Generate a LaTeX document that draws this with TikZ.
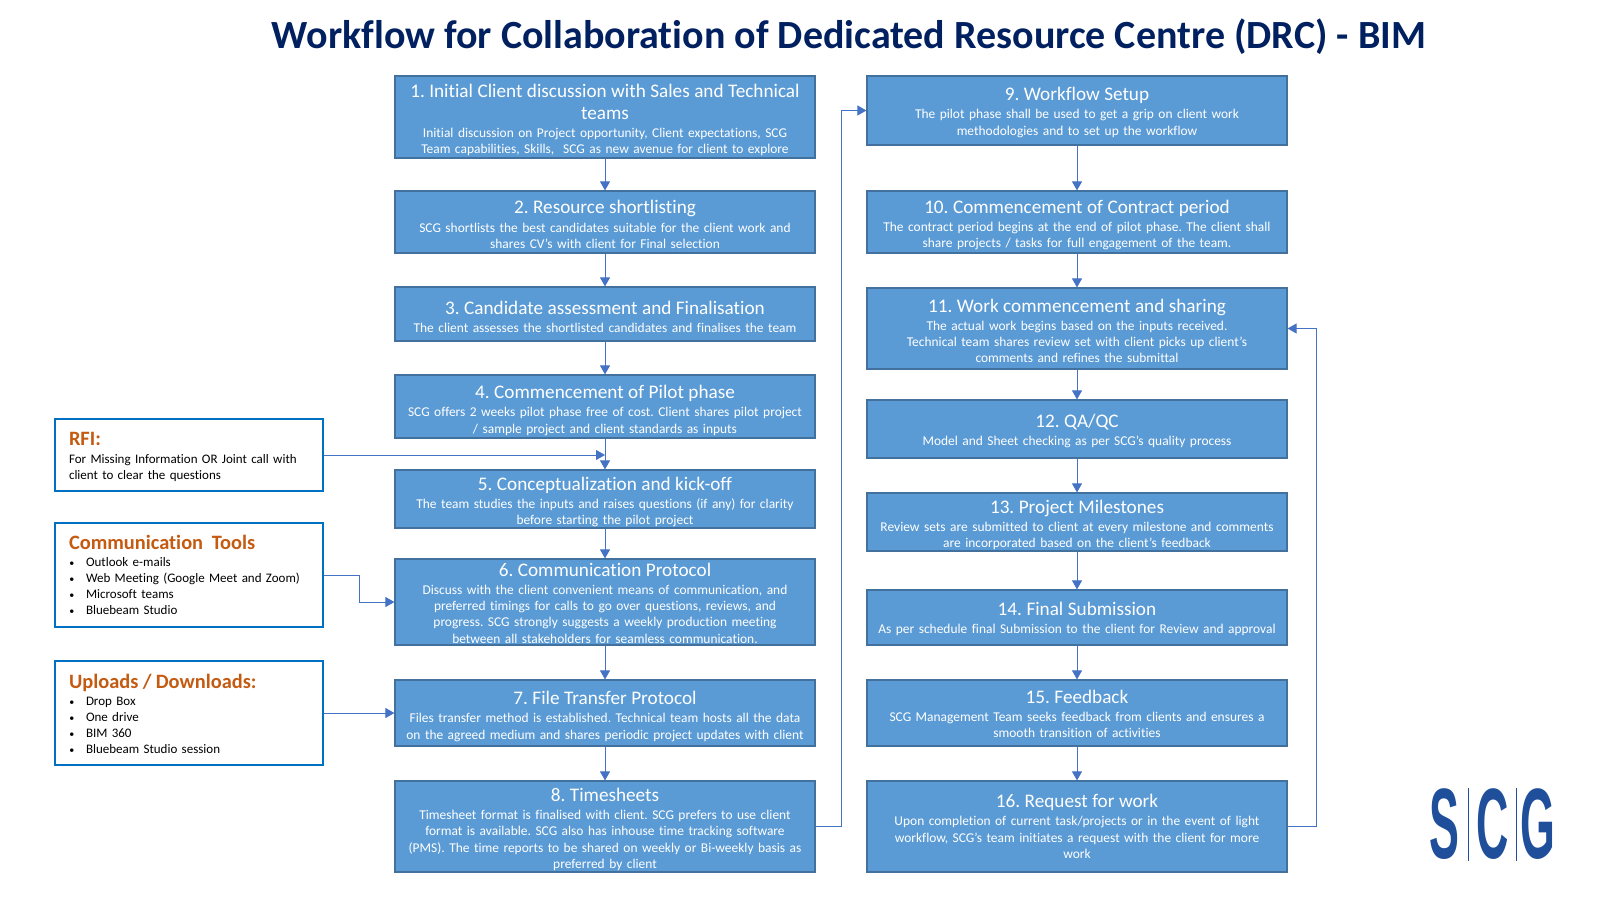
\documentclass[tikz,border=0pt]{standalone}
\usepackage{fontspec}
\setmainfont[Ligatures=NoCommon]{Carlito}
\newfontfamily\logofont{Liberation Sans}
\usepackage{xcolor}
\usetikzlibrary{arrows.meta}
\frenchspacing
\definecolor{boxblue}{HTML}{5B9BD5}
\definecolor{boxedge}{HTML}{41719C}
\definecolor{sideedge}{HTML}{0070C0}
\definecolor{flowblue}{HTML}{4472C4}
\definecolor{headorange}{HTML}{C55A11}
\definecolor{titlenavy}{HTML}{002060}
\definecolor{logoblue}{HTML}{1F4E9A}
\newcommand{\headsize}{\fontsize{9.6}{11.2}\selectfont}
\newcommand{\bodysize}{\fontsize{6.72}{8.15}\selectfont}
\newcommand{\sidesize}{\fontsize{6.5}{8}\selectfont}
\newcommand{\sidehead}[1]{{\fontsize{10.2}{11.5}\selectfont\bfseries\color{headorange}#1\par}\vspace{.4pt}}
\newcommand{\sideitem}[1]{\hspace*{.2pt}\makebox[8.3pt][l]{\fontsize{5}{5}\selectfont\textbullet}#1\par}
\newcommand{\sidelift}[1]{\par\vspace*{-#1}\hrule height 0pt}
\tikzset{
    stepbox/.style={draw=boxedge, fill=boxblue, line width=.6pt, text=white, inner sep=0pt, text width=210pt, minimum width=210pt, align=center, font=\bodysize},
    sidebox/.style={draw=sideedge, line width=1.1pt, fill=white, inner xsep=7pt, inner ysep=0pt, text width=120pt, minimum width=134pt, align=left, font=\sidesize},
    flow/.style={draw=flowblue, line width=.45pt, -{Triangle[length=4.5pt,width=5pt]}},
    logoletter/.style={text=logoblue, font=\logofont\bfseries\fontsize{20}{20}\selectfont, inner sep=0pt, xscale=1.12, yscale=2.5, transform shape}
}
\begin{document}
\begin{tikzpicture}[x=.5pt,y=-.5pt]
\useasboundingbox (0,0) rectangle (1600,900);
\node[text=titlenavy, font=\fontsize{20}{22}\selectfont\bfseries] (title) at (849,37) {Workflow for Collaboration of Dedicated Resource Centre (DRC) - BIM};
\foreach \cx/\cy/\bh/\lift/\btitle/\btext[count=\idx] in {
    605/117/82/3/{1. Initial Client discussion with Sales and Technical\\teams}/{Initial discussion on Project opportunity, Client expectations, SCG\\Team capabilities, Skills,\ \ SCG as new avenue for client to explore},
    605/222/62/2.5/{2. Resource shortlisting}/{SCG shortlists the best candidates suitable for the client work and\\shares CV’s with client for Final selection},
    605/314/54/2.5/{3. Candidate assessment and Finalisation}/{The client assesses the shortlisted candidates and finalises the team},
    605/406.5/63/4/{4. Commencement of Pilot phase}/{SCG offers 2 weeks pilot phase free of cost. Client shares pilot project\\/ sample project and client standards as inputs},
    605/499/58/3/{5. Conceptualization and kick-off}/{The team studies the inputs and raises questions (if any) for clarity\\before starting the pilot project},
    605/602/86/1/{6. Communication Protocol}/{Discuss with the client convenient means of communication, and\\preferred timings for calls to go over questions, reviews, and\\progress. SCG strongly suggests a weekly production meeting\\between all stakeholders for seamless communication.},
    605/713/66/3.5/{7. File Transfer Protocol}/{Files transfer method is established. Technical team hosts all the data\\on the agreed medium and shares periodic project updates with client},
    605/826.5/91/3/{8. Timesheets}/{Timesheet format is finalised with client. SCG prefers to use client\\format is available. SCG also has inhouse time tracking software\\(PMS). The time reports to be shared on weekly or Bi-weekly basis as\\preferred by client},
    1077/110.5/69/2/{9. Workflow Setup}/{The pilot phase shall be used to get a grip on client work\\methodologies and to set up the workflow},
    1077/222/62/3/{10. Commencement of Contract period}/{The contract period begins at the end of pilot phase. The client shall\\share projects / tasks for full engagement of the team.},
    1077/328.5/81/2.5/{11. Work commencement and sharing}/{The actual work begins based on the inputs received.\\Technical team shares review set with client picks up client's\\comments and refines the submittal},
    1077/429/58/2/{12. QA/QC}/{Model and Sheet checking as per SCG’s quality process},
    1077/522/58/3/{13. Project Milestones}/{Review sets are submitted to client at every milestone and comments\\are incorporated based on the client’s feedback},
    1077/617.5/55/1.5/{14. Final Submission}/{As per schedule final Submission to the client for Review and approval},
    1077/713/66/1/{15. Feedback}/{SCG Management Team seeks feedback from clients and ensures a\\smooth transition of activities},
    1077/826.5/91/0/{16. Request for work}/{Upon completion of current task/projects or in the event of light\\workflow, SCG’s team initiates a request with the client for more\\work}
}{
    \node[stepbox, minimum height=\bh*.5pt] (b\idx) at (\cx,\cy) {{\headsize\btitle\par}\vspace{.9pt}\btext\par\vspace*{-\lift pt}};
}
\node[sidebox, minimum height=36pt] (rfi) at (189,455) {\sidehead{RFI:}\vspace{.6pt}For Missing Information OR Joint call with\\client to clear the questions\sidelift{2pt}};
\node[sidebox, minimum height=52pt] (comm) at (189,575) {\sidehead{Communication\ \ Tools}\sideitem{Outlook e-mails}\sideitem{Web Meeting (Google Meet and Zoom)}\sideitem{Microsoft teams}\sideitem{Bluebeam Studio}};
\node[sidebox, minimum height=52pt] (upl) at (189,713) {\sidehead{Uploads / Downloads:}\sideitem{Drop Box}\sideitem{One drive}\sideitem{BIM 360}\sideitem{Bluebeam Studio session}\sidelift{1pt}};
\foreach \a in {1,...,7,9,10,...,15}{
    \pgfmathtruncatemacro{\nxt}{\a+1}
    \draw[flow] (b\a.south) -- (b\nxt.north);
}
\coordinate (commbend) at (359,602);
\coordinate (leftrise) at (841,826.5);
\coordinate (rightrise) at (1316,826.5);
\draw[flow] (rfi.east) -- (rfi.east -| b5.north);
\draw[flow] (comm.east) -| (commbend) -- (b6.west);
\draw[flow] (upl.east) -- (b7.west);
\draw[flow] (b8.east) -- (leftrise) |- (b9.west);
\draw[flow] (b16.east) -- (rightrise) |- (b11.east);
\node[logoletter] (logos) at (1444,824) {S};
\node[logoletter] (logoc) at (1492.5,824) {C};
\node[logoletter] (logog) at (1538,824) {G};
\coordinate (logotop) at (1468,788);
\coordinate (logomid) at (1516,788);
\draw[logoblue, line width=.5pt] (logotop) -- ++(0,73);
\draw[logoblue, line width=.5pt] (logomid) -- ++(0,73);
\end{tikzpicture}
\end{document}
